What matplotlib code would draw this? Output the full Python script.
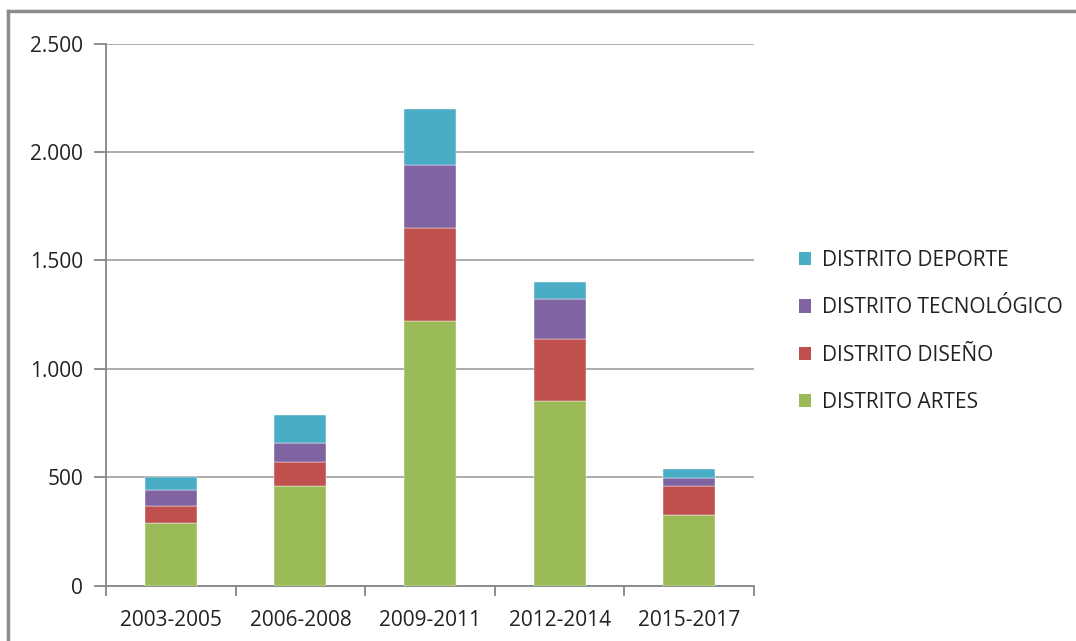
import numpy as np
import matplotlib.pyplot as plt
from matplotlib.lines import Line2D
from matplotlib.patches import Patch
from matplotlib.ticker import FuncFormatter, FixedLocator

periods = ['2003-2005', '2006-2008', '2009-2011', '2012-2014', '2015-2017']
artes = [287, 459, 1222, 851, 325]
diseno = [80, 112, 426, 285, 135]
tecnologico = [72, 86, 290, 186, 37]
deporte = [61, 128, 259, 79, 42]

series = ['DISTRITO ARTES', 'DISTRITO DISEÑO', 'DISTRITO TECNOLÓGICO', 'DISTRITO DEPORTE']
colors = ['#9BBB59', '#C0504D', '#8064A2', '#4BACC6']

plt.rcParams['font.family'] = ['Open Sans', 'DejaVu Sans']

fig = plt.figure(figsize=(10.76, 6.41), dpi=100)
ax = fig.add_axes([106/1076, 1-585.5/641, (754-106)/1076, (585.5-43.5)/641])

x = np.arange(len(periods))
bottom = np.zeros(len(periods))
for vals, c in zip([artes, diseno, tecnologico, deporte], colors):
    ax.bar(x, vals, width=0.4, bottom=bottom, color=c, edgecolor='white', linewidth=0.3, zorder=3)
    bottom += np.array(vals)

ax.set_xlim(-0.5, len(periods) - 0.5)
ax.set_ylim(0, 2500)
ax.set_yticks(range(0, 2501, 500))
ax.yaxis.set_major_formatter(FuncFormatter(lambda v, p: f'{int(v):,}'.replace(',', '.')))
ax.grid(axis='y', color='#a6a6a6', linewidth=1.3, zorder=0)

ax.set_xticks(x)
ax.set_xticklabels(periods, fontsize=15, color='#222222')
ax.xaxis.set_minor_locator(FixedLocator(np.arange(-0.5, len(periods), 1)))
ax.tick_params(axis='x', which='major', length=0, pad=18)
ax.tick_params(axis='x', which='minor', length=7, width=1.3, color='#868686', direction='out')
ax.tick_params(axis='y', length=9, width=1.3, color='#868686', direction='out', pad=7.5,
               labelsize=15, labelcolor='#222222')

for s in ['top', 'right']:
    ax.spines[s].set_visible(False)
for s in ['left', 'bottom']:
    ax.spines[s].set_color('#868686')
    ax.spines[s].set_linewidth(1.3)

handles = [Patch(facecolor=c) for c in colors[::-1]]
fig.legend(handles, series[::-1], loc='center left', bbox_to_anchor=(780/1076, 1-331.5/641),
           frameon=False, fontsize=15, handlelength=0.6, handleheight=0.6,
           handletextpad=0.5, labelspacing=1.26, labelcolor='#222222')

fig.add_artist(Line2D([8/1076, 1], [1-11/641, 1-11/641], color='#8c8c8c', linewidth=2.5))
fig.add_artist(Line2D([8/1076, 8/1076], [0, 1-11/641], color='#8c8c8c', linewidth=2.5))

fig.savefig('out.png', dpi=100)
